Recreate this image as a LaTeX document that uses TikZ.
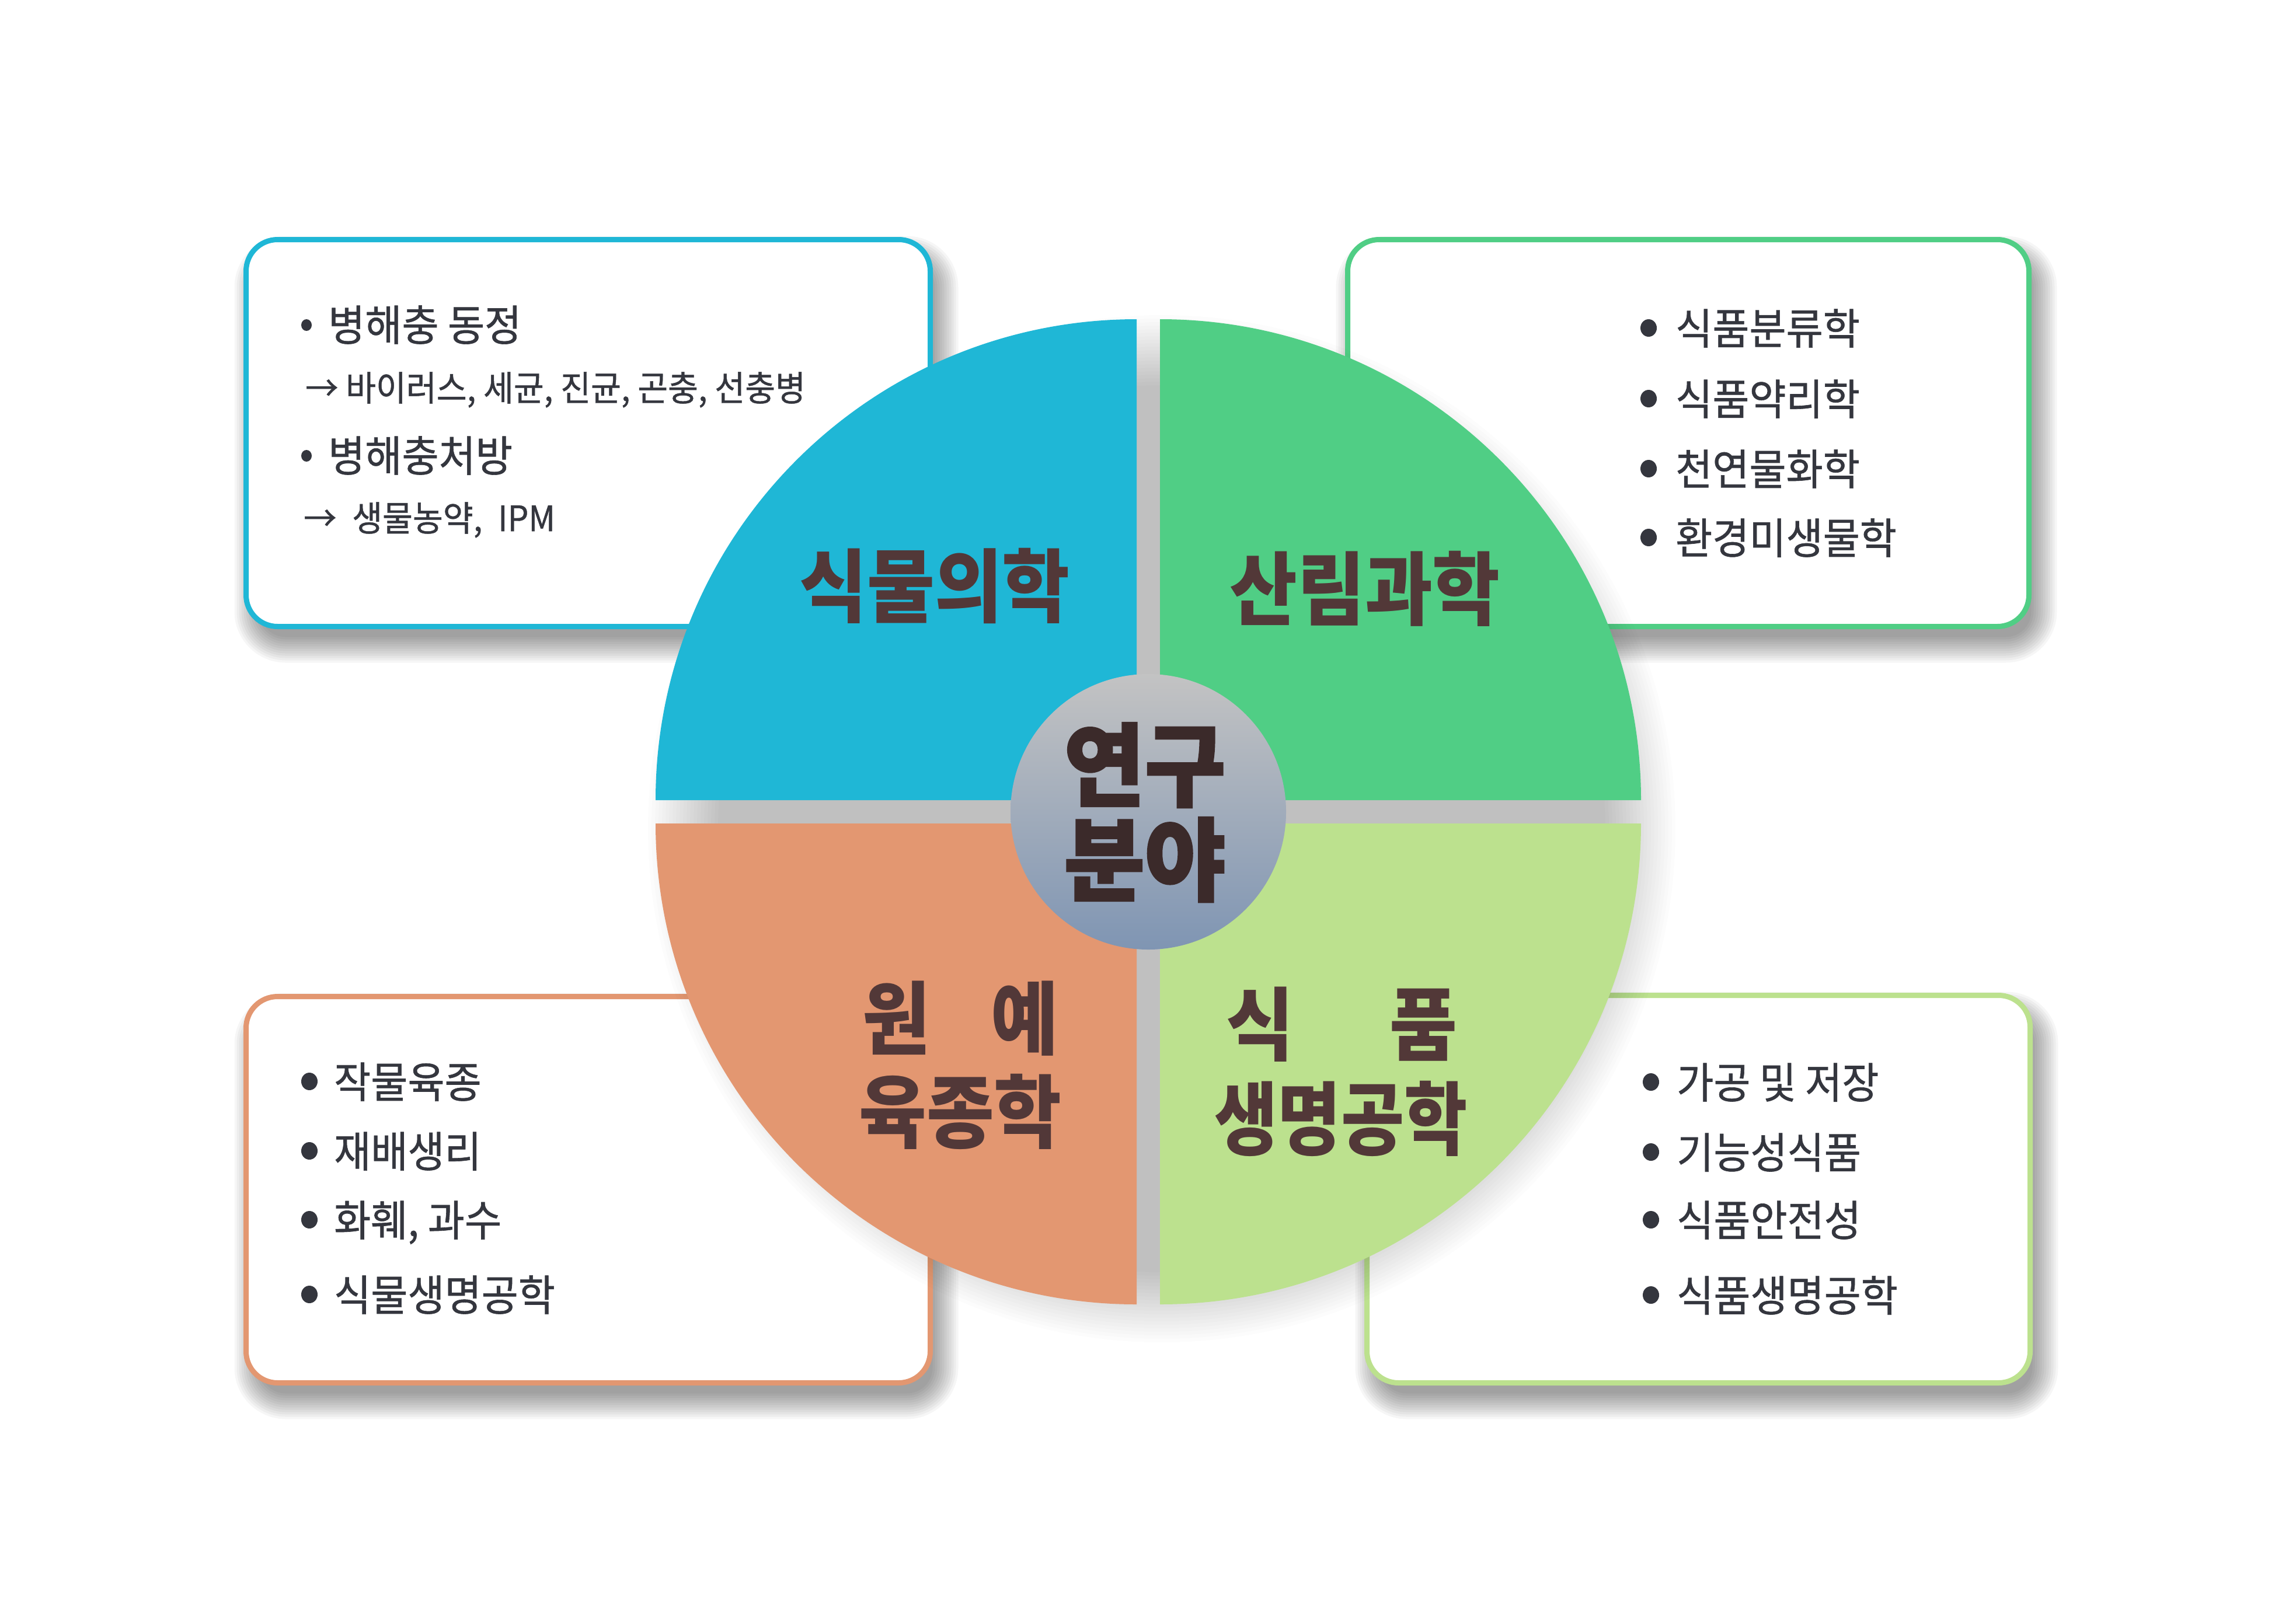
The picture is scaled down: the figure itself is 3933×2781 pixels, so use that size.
\documentclass[tikz,border=0pt]{standalone}
\usepackage{fontspec}
\setmainfont{Noto Sans CJK KR}[FakeStretch=0.93]
\newfontfamily\boxfont{Noto Sans CJK KR}[FakeStretch=0.94, FakeBold=0.8]
\newfontfamily\lblfont{Noto Sans CJK KR}[FakeStretch=0.92]
\newfontfamily\lblfontn{Noto Sans CJK KR}[FakeStretch=0.86]
\newfontfamily\cenfont{Noto Sans CJK KR}[FakeStretch=0.97, FakeBold=2]
\usetikzlibrary{calc}
\definecolor{cBlue}{HTML}{1FB7D6}
\definecolor{cGreen}{HTML}{50CE85}
\definecolor{cOrange}{HTML}{E39771}
\definecolor{cLight}{HTML}{BCE18E}
\definecolor{cTxt}{HTML}{34363E}
\definecolor{cLbl}{HTML}{523838}
\definecolor{cCen}{HTML}{3B2A2A}
\definecolor{cTop}{HTML}{C3C3C3}
\definecolor{cBot}{HTML}{7F95B3}
\tikzset{
  infobox/.style={line width=9pt, fill=white, rounded corners=54pt},
  boxtxt/.style={anchor=west, inner sep=0pt, text=cTxt, font=\boxfont\fontsize{73pt}{86pt}\selectfont, text height=61pt, text depth=5pt},
  subtxt/.style={anchor=west, inner sep=0pt, text=cTxt, font=\boxfont\fontsize{60pt}{72pt}\selectfont, text height=50pt, text depth=4pt},
  pielbl/.style={anchor=center, inner sep=0pt, text=cLbl, font=\lblfont\fontsize{137pt}{160pt}\selectfont\bfseries, text height=114pt, text depth=10pt},
  pielbln/.style={pielbl, font=\lblfontn\fontsize{137pt}{160pt}\selectfont\bfseries},
  cenlbl/.style={anchor=center, inner sep=0pt, text=cCen, font=\cenfont\fontsize{155pt}{180pt}\selectfont\bfseries, text height=129pt, text depth=11pt},
  shadelayer/.style={fill=black, opacity=0.035},
  pielayer/.style={fill=black, opacity=0.0135},
}
\newcommand\mybshadow[4]{%
  \foreach \e in {34,30,...,-10}{
    \pgfmathsetmacro\rr{max(54+\e,10)}
    \fill[shadelayer, rounded corners=\rr pt] ({#1+14-(\e)},{#2+28-(\e)}) rectangle ({#3+14+\e},{#4+28+\e});
  }}
\begin{document}
\begin{tikzpicture}[x=1pt,y=-1pt]
\useasboundingbox (0,0) rectangle (3933,2781);
\fill[white] (0,0) rectangle (3933,2781);

% ---- info boxes ----
\mybshadow{421.5}{410.5}{1593.5}{1073.5}
\mybshadow{2308.5}{410.5}{3475.5}{1073.5}
\mybshadow{421.5}{1707.5}{1593.5}{2369.5}
\mybshadow{2341.5}{1705.5}{3477.5}{2369.5}
\draw[infobox, draw=cBlue]   (421.5,410.5) rectangle (1593.5,1073.5);
\draw[infobox, draw=cGreen]  (2308.5,410.5) rectangle (3475.5,1073.5);
\draw[infobox, draw=cOrange] (421.5,1707.5) rectangle (1593.5,2369.5);
\draw[infobox, draw=cLight]  (2341.5,1705.5) rectangle (3477.5,2369.5);

% ---- top-left box text ----
\fill[cTxt] (525,557) ellipse[x radius=9, y radius=10];
\node[boxtxt] (tl1) at (562,556) {병해충 동정};
\node[subtxt] (tl2) at (523,664) {→ 바이러스, 세균, 진균, 곤충, 선충병};
\fill[cTxt] (525,781) ellipse[x radius=9, y radius=10];
\node[boxtxt] (tl3) at (562,780) {병해충처방};
\node[subtxt] (tl4) at (520,887) {→\hspace{14pt} 생물농약,\hspace{14pt} IPM};

% ---- top-right box text ----
\foreach \yy/\tt [count=\i] in {562/식품분류학, 683/식품약리학, 803/천연물화학, 921/환경미생물학}{
  \fill[cTxt] (2824,\yy) ellipse[x radius=14, y radius=15];
  \node[boxtxt] (tr\i) at (2870,\yy) {\tt};
}

% ---- bottom-left box text ----
\foreach \yy/\tt [count=\i] in {1853/작물육종, 1972/재배생리, 2090/{화훼, 과수}, 2218/식물생명공학}{
  \fill[cTxt] (530,\yy) ellipse[x radius=14, y radius=15];
  \node[boxtxt] (bl\i) at (572,\yy) {\tt};
}

% ---- bottom-right box text ----
\foreach \yy/\tt [count=\i] in {1854/가공 및 저장, 1974/기능성식품, 2090/식품안전성, 2219/식품생명공학}{
  \fill[cTxt] (2828,\yy) ellipse[x radius=14, y radius=15];
  \node[boxtxt] (br\i) at (2872,\yy) {\tt};
}

% ---- pie shadow ----
\foreach \k in {0,...,20}{
  \fill[pielayer] (1990,1420) circle[radius={880-6*\k}];
}

% ---- quadrants ----
\fill[cBlue]   (1947,1371) -- (1123,1371) arc[start angle=180, end angle=270, radius=824] -- cycle;
\fill[cGreen]  (1987,1371) -- (1987,547)  arc[start angle=270, end angle=360, radius=824] -- cycle;
\fill[cLight]  (1987,1411) -- (2811,1411) arc[start angle=0,   end angle=90,  radius=824] -- cycle;
\fill[cOrange] (1947,1411) -- (1947,2235) arc[start angle=90,  end angle=180, radius=824] -- cycle;

% ---- centre ----
\shade[top color=cTop, bottom color=cBot] (1967,1391) circle[radius=236];

% ---- labels ----
\node[pielbl] (q1) at (1601,1003) {식물의학};
\node[pielbl] (q2) at (2338,1008) {산림과학};
\node[pielbl] (q3a) at (1645,1744) {원\hspace{104pt}예};
\node[pielbl] (q3b) at (1645,1904) {육종학};
\node[pielbl] (q4a) at (2298,1754) {식\hspace{164pt}품};
\node[pielbln] (q4b) at (2297,1916) {생명공학};
\node[cenlbl] (c1) at (1961,1310) {연구};
\node[cenlbl] (c2) at (1961,1472) {분야};
\end{tikzpicture}
\end{document}
